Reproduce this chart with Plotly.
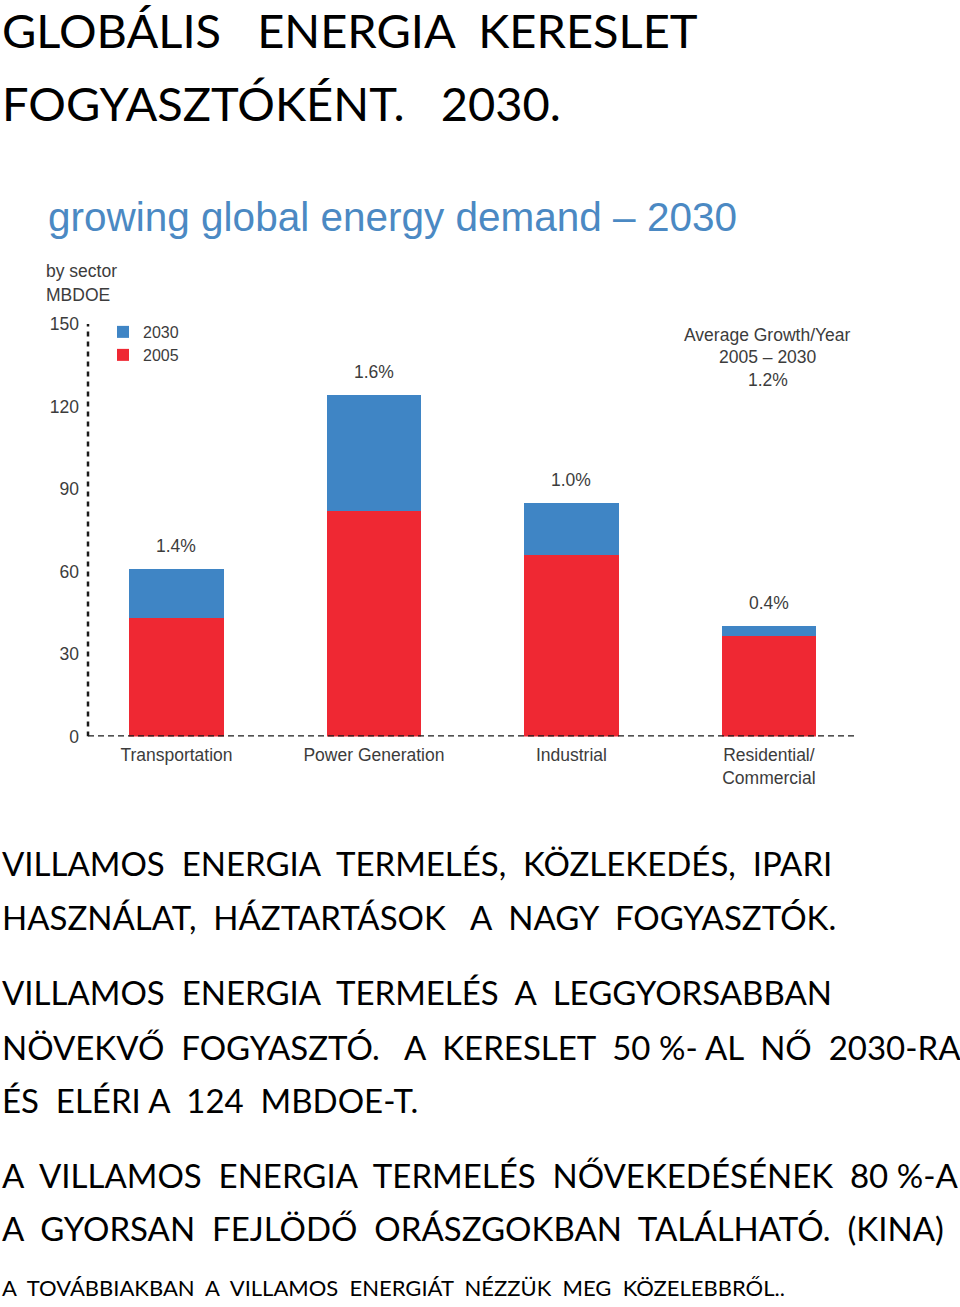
import plotly.graph_objects as go

# ---- data ----
categories = ["Transportation", "Power Generation", "Industrial", "Residential/<br>Commercial"]
demand_2005 = [43, 82, 66, 36.5]
demand_2030 = [61, 124, 85, 40]
growth_labels = ["1.4%", "1.6%", "1.0%", "0.4%"]
y_ticks = [0, 30, 60, 90, 120, 150]

heading_lines = ["GLOBÁLIS   ENERGIA  KERESLET", "FOGYASZTÓKÉNT.   2030."]
body_lines = [
    "VILLAMOS  ENERGIA  TERMELÉS,  KÖZLEKEDÉS,  IPARI",
    "HASZNÁLAT,  HÁZTARTÁSOK   A  NAGY  FOGYASZTÓK.",
    "VILLAMOS  ENERGIA  TERMELÉS  A  LEGGYORSABBAN",
    "NÖVEKVŐ  FOGYASZTÓ.   A  KERESLET  50 %- AL  NŐ  2030-RA",
    "ÉS  ELÉRI A  124  MBDOE-T.",
    "A  VILLAMOS  ENERGIA  TERMELÉS  NŐVEKEDÉSÉNEK  80 %-A",
    "A  GYORSAN  FEJLÖDŐ  ORÁSZGOKBAN  TALÁLHATÓ.  (KINA)",
]
footer_line = "A  TOVÁBBIAKBAN  A  VILLAMOS  ENERGIÁT  NÉZZÜK  MEG  KÖZELEBBRŐL.."

W, H = 960, 1307
BLUE = "#3f85c5"
RED = "#ef2833"
TXT = "#3c3c3c"
CHART_FONT = "Liberation Sans, Arial, sans-serif"
SLIDE_FONT = "Lato, sans-serif"

# vertical calibration of the photographed page
V_OFF, V_SCALE = 10.05, 0.98463


def px(x):
    return x / W


def page_y(t):
    return (t - V_OFF) / V_SCALE


def py(t, raw=False):
    y = t if raw else page_y(t)
    return 1 - y / H


def keep_spaces(s):
    return s.replace("  ", "\u00a0 ").replace("  ", " \u00a0")


increment = [b - a for a, b in zip(demand_2005, demand_2030)]
xpos = list(range(len(categories)))

fig = go.Figure()
fig.add_trace(go.Bar(x=xpos, y=demand_2005, name="2005", marker=dict(color=RED, line=dict(width=0)),
                     width=0.48, legend="legend2", hoverinfo="skip"))
fig.add_trace(go.Bar(x=xpos, y=increment, name="2030", marker=dict(color=BLUE, line=dict(width=0)),
                     width=0.48, legend="legend", hoverinfo="skip"))

annotations = []
for i, lab in enumerate(growth_labels):
    annotations.append(dict(x=i, y=demand_2030[i], xref="x", yref="y", text=lab, showarrow=False,
                            yanchor="middle", yshift=23, font=dict(family=CHART_FONT, size=17.5, color=TXT)))

annotations.append(dict(x=px(46), y=py(217.5), xref="paper", yref="paper", xanchor="left", yanchor="middle",
                        text="growing global energy demand – 2030", showarrow=False,
                        font=dict(family=CHART_FONT, size=40.5, color="#4b89c3")))
annotations.append(dict(x=px(44), y=py(271.5), xref="paper", yref="paper", xanchor="left", yanchor="middle",
                        text="by sector", showarrow=False, font=dict(family=CHART_FONT, size=17.5, color=TXT)))
annotations.append(dict(x=px(44), y=py(295), xref="paper", yref="paper", xanchor="left", yanchor="middle",
                        text="MBDOE", showarrow=False, font=dict(family=CHART_FONT, size=17.5, color=TXT)))
for t, yy in zip(["Average Growth/Year", "2005 – 2030", "1.2%"], [335, 357.5, 380]):
    annotations.append(dict(x=px(767.5), y=py(yy), xref="paper", yref="paper", xanchor="center", yanchor="middle",
                            text=t, showarrow=False, font=dict(family=CHART_FONT, size=17.5, color=TXT)))

for t, yy in zip(heading_lines, [31.5, 104]):
    annotations.append(dict(x=px(0), y=py(page_y(yy) - 1.4, raw=True), xref="paper", yref="paper",
                            xanchor="left", yanchor="middle", text=keep_spaces(t), showarrow=False,
                            font=dict(family=SLIDE_FONT, size=47, color="#000000")))
for t, yy in zip(body_lines, [864, 917.5, 992.5, 1047.5, 1100.5, 1175.5, 1228.5]):
    annotations.append(dict(x=px(0), y=py(page_y(yy) - 1, raw=True), xref="paper", yref="paper",
                            xanchor="left", yanchor="middle", text=keep_spaces(t), showarrow=False,
                            font=dict(family=SLIDE_FONT, size=33, color="#000000")))
annotations.append(dict(x=px(0), y=py(1297.5, raw=True), xref="paper", yref="paper", xanchor="left",
                        yanchor="middle", text=keep_spaces(footer_line), showarrow=False,
                        font=dict(family=SLIDE_FONT, size=22, color="#000000")))

x0, x1 = px(88), px(855)
shapes = [
    dict(type="line", xref="paper", yref="y", x0=x0, x1=x1, y0=0, y1=0,
         line=dict(color="#1a1a1a", width=2.5, dash="6px,4px"), layer="above"),
    dict(type="line", xref="paper", yref="y", x0=x0, x1=x0, y0=0, y1=150,
         line=dict(color="#1a1a1a", width=2.5, dash="5px,5px"), layer="above"),
]

fig.update_layout(
    width=W, height=H,
    margin=dict(l=0, r=0, t=0, b=0),
    paper_bgcolor="white", plot_bgcolor="rgba(0,0,0,0)",
    barmode="stack",
    annotations=annotations,
    shapes=shapes,
    showlegend=True,
    legend=dict(x=px(103), y=py(332), xanchor="left", yanchor="middle",
                font=dict(family=CHART_FONT, size=16, color=TXT), bgcolor="rgba(0,0,0,0)"),
    legend2=dict(x=px(103), y=py(355), xanchor="left", yanchor="middle",
                 font=dict(family=CHART_FONT, size=16, color=TXT), bgcolor="rgba(0,0,0,0)"),
    xaxis=dict(domain=[px(88), px(855)], range=[-0.448, 3.436], tickmode="array", tickvals=xpos,
               ticktext=categories, showgrid=False, zeroline=False, showline=False, ticks="",
               tickfont=dict(family=CHART_FONT, size=17.5, color=TXT), ticklabelstandoff=6),
    yaxis=dict(domain=[py(736.5), py(324)], range=[0, 150], tickmode="array", tickvals=y_ticks,
               showgrid=False, zeroline=False, showline=False, ticks="",
               tickfont=dict(family=CHART_FONT, size=17.5, color=TXT), ticklabelstandoff=8),
)

post = ("document.documentElement.style.margin='0';document.body.style.margin='0';"
        "document.body.style.padding='0';"
        "var gd=document.getElementById('{plot_id}');gd.style.position='absolute';"
        "gd.style.top='0px';gd.style.left='0px';")
fig.write_html("out.html", post_script=post, config={"displayModeBar": False})
